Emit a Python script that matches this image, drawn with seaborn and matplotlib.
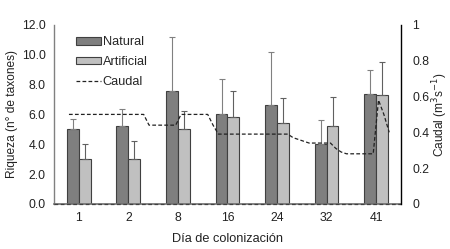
import numpy as np
import pandas as pd
import matplotlib
matplotlib.use('Agg')
import matplotlib.pyplot as plt
import seaborn as sns
from matplotlib.patches import Patch
from matplotlib.lines import Line2D

# --- Daten ---
dias = ['1', '2', '8', '16', '24', '32', '41']
natural = [5.0, 5.2, 7.6, 6.0, 6.6, 4.0, 7.4]
artificial = [3.0, 3.0, 5.0, 5.8, 5.4, 5.2, 7.3]
natural_err = [0.7, 1.15, 3.6, 2.35, 3.6, 1.6, 1.55]
artificial_err = [1.0, 1.2, 1.2, 1.8, 1.7, 1.95, 2.2]

# Caudal diario (m3/s), serie continua sobre el periodo
caudal = [0.50] * 15 + [0.44] * 6 + [0.50] * 6 + [0.44] + [0.39] * 14 + \
         [0.37, 0.36, 0.35] + [0.34] * 5 + [0.31, 0.29] + [0.28] * 6 + [0.58, 0.50, 0.40]

df = pd.DataFrame({
    'Dia': dias * 2,
    'Tipo': ['Natural'] * len(dias) + ['Artificial'] * len(dias),
    'Riqueza': natural + artificial,
})
df_caudal = pd.DataFrame({'t': np.arange(len(caudal)), 'Caudal': caudal})

sns.set_theme(style='white')
plt.rcParams['font.family'] = ['Liberation Sans', 'DejaVu Sans']

colores = {'Natural': '#7f7f7f', 'Artificial': '#c0c0c0'}
fs_tick = 8.8
fs_lab = 9.2
fs_ylab = 8.6

fig = plt.figure(figsize=(4.5, 2.49), dpi=100)
ax = fig.add_axes([0.12, 0.181, 0.771, 0.719])

sns.barplot(data=df, x='Dia', y='Riqueza', hue='Tipo', palette=colores,
            width=0.48, gap=0, edgecolor='#404040', linewidth=0.8,
            errorbar=None, legend=False, ax=ax, zorder=2)

# barras de error (solo hacia arriba)
barras = [p for p in ax.patches if p.get_width() > 0]
alturas = natural + artificial
errores = natural_err + artificial_err
for p, h, e, c in zip(barras, alturas, errores, ['#808080'] * 7 + ['#606060'] * 7):
    xc = p.get_x() + p.get_width() / 2
    ax.errorbar(xc, h, yerr=[[0], [e]], fmt='none', ecolor=c,
                elinewidth=0.8, capsize=2, capthick=0.8, zorder=3)

ax.set_ylim(0, 12)
ax.set_yticks(np.arange(0, 12.1, 2))
ax.set_yticklabels([f'{v:.1f}' for v in np.arange(0, 12.1, 2)], fontsize=fs_tick, color='#222222')
ax.set_xlim(-0.5, 6.5)
ax.tick_params(axis='x', labelsize=fs_tick, colors='#222222', length=0, pad=6)
ax.tick_params(axis='y', length=0, pad=6)
ax.set_ylabel('Riqueza (n° de taxones)', fontsize=fs_ylab, color='#222222', labelpad=2.5)
ax.set_xlabel('Día de colonización', fontsize=fs_lab, color='#222222', labelpad=6)
for s in ['top', 'right']:
    ax.spines[s].set_visible(False)
ax.spines['left'].set_color('#808080')
ax.spines['left'].set_linewidth(1.0)
ax.spines['bottom'].set_color('#707070')
ax.spines['bottom'].set_linewidth(1.2)
ax.axhline(0, color='#404040', lw=0.9, ls=(0, (3, 2)), zorder=4, clip_on=False)

# eje secundario para el caudal
ax2 = ax.twinx()
ax3 = ax2.twiny()
sns.lineplot(data=df_caudal, x='t', y='Caudal', ax=ax3, color='#222222',
             lw=0.9, ls=(0, (3, 1.8)))
ax3.set_xlim(-2.8, len(caudal) + 1.2)
ax3.set_ylim(0, 1)
ax2.set_ylim(0, 1)
ax3.axis('off')
ax2.set_yticks([0, 0.2, 0.4, 0.6, 0.8, 1])
ax2.set_yticklabels(['0', '0.2', '0.4', '0.6', '0.8', '1'], fontsize=fs_tick, color='#222222')
ax2.tick_params(axis='y', length=0, pad=8)
ax2.set_ylabel('Caudal (m$^3$s$^{-1}$)', fontsize=fs_ylab, color='#222222',
               va='center', ha='center')
ax2.yaxis.set_label_coords(1.112, 0.5)
for s in ['top', 'left', 'bottom']:
    ax2.spines[s].set_visible(False)
ax2.spines['right'].set_color('black')
ax2.spines['right'].set_linewidth(1.0)

handles = [Patch(facecolor=colores['Natural'], edgecolor='#404040', lw=0.8),
           Patch(facecolor=colores['Artificial'], edgecolor='#404040', lw=0.8),
           Line2D([], [], color='#222222', lw=0.9, ls=(0, (3, 1.8)))]
ax3.legend(handles, ['Natural', 'Artificial', 'Caudal'], loc='upper left',
           bbox_to_anchor=(0.03, 1.0), frameon=False, fontsize=fs_lab,
           handlelength=2.0, handleheight=0.55, handletextpad=0.1,
           labelspacing=0.6)

fig.savefig('out.png', dpi=100)
